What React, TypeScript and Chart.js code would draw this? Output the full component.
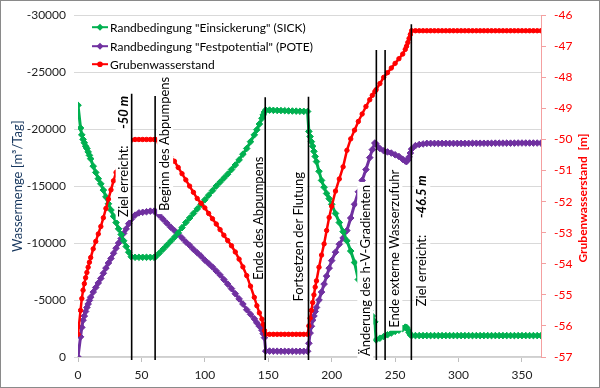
import React, { useEffect, useRef } from "react";
import { Chart, registerables } from "chart.js";
Chart.register(...registerables);

// ---- data ----
const days = [
  0, 2, 3, 4, 5, 6, 7, 8, 9, 10, 12, 14, 16, 18, 20, 22, 24, 26, 28, 30, 32, 34, 36, 38, 40, 42,
  45, 48, 51, 54, 57, 60, 61, 64, 67, 70, 73, 76, 79, 82, 85, 88, 91, 94, 97, 100, 103, 106, 109,
  112, 115, 118, 121, 124, 127, 130, 133, 136, 139, 141, 143, 145, 146, 147, 148, 151, 154, 157,
  160, 163, 166, 169, 172, 175, 178, 181, 182, 183, 184, 185, 186, 187, 188, 190, 192, 194, 196,
  198, 200, 203, 206, 209, 212, 215, 218, 221, 224, 227, 230, 232, 234, 235, 238, 241, 244, 247,
  250, 253, 256, 258, 259, 260, 261, 262, 263, 266, 269, 272, 275, 278, 281, 284, 287, 290, 293,
  296, 299, 302, 305, 308, 311, 314, 317, 320, 323, 326, 329, 332, 335, 338, 341, 344, 347, 350,
  353, 356, 359, 362, 365,
];

const sickValues = [
  -22100, -20100, -19500, -19100, -18800, -18500, -18300, -18000, -17700, -17400, -16750, -16200,
  -15650, -15200, -14650, -14050, -13450, -12900, -12350, -11800, -11250, -10750, -10200, -9700,
  -9200, -8800,
  -8750, -8750, -8750, -8750, -8750, -8750, -8780, -9100, -9450, -9800, -10150, -10500, -10900,
  -11350, -11800, -12200, -12600, -13000, -13400, -13800, -14200, -14600, -15000,
  -15350, -15700, -16050, -16450, -16850, -17300, -17800, -18300, -18900, -19500, -19950, -20450,
  -20950, -21250, -21500, -21680, -21670, -21650, -21640,
  -21630, -21620, -21600, -21590, -21580, -21570, -21560, -21550, -19800, -19350, -18900, -18500,
  -18050, -17600, -17150, -16300, -15500, -14900, -14350,
  -13900, -13400, -12600, -11800, -11000, -10200, -9300, -8300, -6800, -5600, -4800, -4100, -3600,
  -3080, -1500, -1650, -1800, -1950, -2100,
  -2250, -2350, -2500, -2620, -2600, -2400, -2150, -1950, -1880, -1880, -1880, -1880, -1880, -1880,
  -1880, -1880, -1880, -1880, -1880,
  -1880, -1880, -1880, -1880, -1880, -1880, -1880, -1880, -1880, -1880, -1880, -1880, -1880, -1880,
  -1880, -1880, -1880, -1880, -1880,
  -1880, -1880, -1880, -1880, -1880,
];

const poteValues = [
  0, -1770, -2600, -3230, -3600, -4000, -4350, -4650, -4970, -5250, -5700, -6100, -6500, -6900,
  -7350, -7800, -8250, -8650, -9100, -9550, -10000, -10400, -10850, -11250, -11700, -12100,
  -12450, -12650, -12700, -12750, -12800, -12800, -12780, -12450, -12100, -11750, -11400, -11100,
  -10800, -10450, -10100, -9800, -9450, -9150, -8850, -8500, -8200, -7900, -7550,
  -7200, -6800, -6400, -6000, -5550, -5100, -4650, -4150, -3750, -3350, -3000, -2700, -2350,
  -2050, -1700, -520, -520, -510, -510,
  -500, -500, -500, -500, -500, -500, -500, -500, -1200, -2100, -2700, -3230, -3600, -4000,
  -4350, -5000, -5700, -6400, -7100,
  -7800, -8460, -9200, -9900, -10450, -11100, -12200, -13400, -14500, -15500, -16450, -17500,
  -18200, -18780, -18700, -18300, -18100, -18000, -17900,
  -17750, -17600, -17350, -17200, -17150, -17300, -17550, -17900, -18250, -18550, -18650, -18700,
  -18750, -18750, -18750, -18750, -18750, -18750, -18750,
  -18750, -18750, -18750, -18750, -18750, -18760, -18760, -18760, -18760, -18760, -18760, -18770,
  -18770, -18770, -18770, -18770, -18770, -18780, -18780,
  -18780, -18780, -18780, -18780, -18780,
];

const levelValues = [
  -56.27, -55.5, -55.12, -54.85, -54.64, -54.45, -54.28, -54.11, -53.95, -53.8, -53.52, -53.28,
  -53.04, -52.8, -52.52, -52.22, -51.92, -51.62, -51.33, -51.06, -50.8, -50.56, -50.36, -50.2,
  -50.08, -50.02,
  -50.0, -50.0, -50.0, -50.0, -50.0, -50.0, -50.0, -50.1, -50.25, -50.4, -50.55, -50.7, -50.9,
  -51.1, -51.3, -51.5, -51.7, -51.9, -52.05, -52.2, -52.38, -52.55, -52.72,
  -52.9, -53.08, -53.25, -53.42, -53.62, -53.85, -54.1, -54.38, -54.72, -55.08, -55.35, -55.58,
  -55.78, -55.95, -56.15, -56.27, -56.27, -56.27, -56.27,
  -56.27, -56.27, -56.27, -56.27, -56.27, -56.27, -56.27, -56.27, -56.0, -55.75, -55.5, -55.25,
  -55.0, -54.75, -54.55, -54.11, -53.72, -53.36, -52.93,
  -52.51, -52.15, -51.66, -51.27, -50.88, -50.35, -49.98, -49.7, -49.42, -49.18, -48.94, -48.72,
  -48.58, -48.46, -48.4, -48.2, -48.0, -47.85, -47.7,
  -47.55, -47.4, -47.25, -47.1, -47.0, -46.88, -46.75, -46.62, -46.5, -46.5, -46.5, -46.5, -46.5,
  -46.5, -46.5, -46.5, -46.5, -46.5, -46.5,
  -46.5, -46.5, -46.5, -46.5, -46.5, -46.5, -46.5, -46.5, -46.5, -46.5, -46.5, -46.5, -46.5, -46.5,
  -46.5, -46.5, -46.5, -46.5, -46.5,
  -46.5, -46.5, -46.5, -46.5, -46.5,
];

const seriesNames = [
  'Randbedingung "Einsickerung" (SICK)',
  'Randbedingung "Festpotential" (POTE)',
  "Grubenwasserstand",
];

const xTicks = [0, 50, 100, 150, 200, 250, 300, 350];
const leftTicks = [-30000, -25000, -20000, -15000, -10000, -5000, 0];
const rightTicks = [-57, -56, -55, -54, -53, -52, -51, -50, -49, -48, -47, -46];

// event markers (vertical lines): day and top end (left-axis units)
const eventDays = [42.3, 60.8, 147.6, 181.7, 235.2, 242.1, 262.8];
const eventTops = [-23100, -22900, -22800, -22850, -26950, -26950, -29200];

// annotation texts (anchored at day / left-axis value)
const annotationTexts = [
  ["Ziel erreicht:", "-50 m"],
  ["Beginn des Abpumpens"],
  ["Ende des Abpumpens"],
  ["Fortsetzen der Flutung"],
  ["Änderung des h-V-Gradienten"],
  ["Ende externe Wasserzufuhr"],
  ["Ziel erreicht:", "-46.5 m"],
];
const annotationDays = [36, 68.7, 142.3, 174.2, 226.5, 249.4, 271.4];
const annotationValues = [-17600, -18700, -12170, -10550, -7590, -9500, -10200];

const FONT = "Lato, 'DejaVu Sans', sans-serif";
const GREEN = "#00B050";
const PURPLE = "#7030A0";
const RED = "#FF0000";

const overlayPlugin = {
  id: "overlay",
  beforeDraw(chart: any) {
    const ctx = chart.ctx;
    ctx.save();
    ctx.fillStyle = "#fff";
    ctx.fillRect(0, 0, chart.width, chart.height);
    ctx.restore();
  },
  afterDatasetsDraw(chart: any) {
    const ctx = chart.ctx;
    const x = chart.scales.x;
    const y = chart.scales.y;
    // annotation boxes
    annotationTexts.forEach((parts, i) => {
      const px = x.getPixelForValue(annotationDays[i]);
      const py = y.getPixelForValue(annotationValues[i]);
      ctx.save();
      ctx.translate(px, py);
      ctx.rotate(-Math.PI / 2);
      const fonts = parts.map((_, k) => (k === 0 ? `13px ${FONT}` : `italic bold 13px ${FONT}`));
      const texts = parts.map((t, k) => (k === 0 && parts.length > 1 ? t + "     " : t));
      const widths = texts.map((t, k) => {
        ctx.font = fonts[k];
        return ctx.measureText(t).width;
      });
      const total = widths.reduce((a, b) => a + b, 0);
      ctx.fillStyle = "#fff";
      ctx.fillRect(-total / 2 - 3, -8, total + 6, 16);
      ctx.fillStyle = "#000";
      ctx.textBaseline = "middle";
      ctx.textAlign = "left";
      let cx = -total / 2;
      texts.forEach((t, k) => {
        ctx.font = fonts[k];
        ctx.fillText(t, cx, 0);
        cx += widths[k];
      });
      ctx.restore();
    });
    // event lines
    ctx.save();
    ctx.strokeStyle = "#000";
    ctx.lineWidth = 1.6;
    eventDays.forEach((d, i) => {
      const px = x.getPixelForValue(d);
      const top = y.getPixelForValue(eventTops[i]);
      ctx.beginPath();
      ctx.moveTo(px, top);
      ctx.lineTo(px, y.bottom + 3);
      ctx.stroke();
    });
    ctx.restore();
  },
  afterDraw(chart: any) {
    const ctx = chart.ctx;
    const area = chart.chartArea;
    // legend
    const colors = [GREEN, PURPLE, RED];
    const lx = area.left + 14;
    const lys = [area.top + 12, area.top + 31, area.top + 49];
    ctx.save();
    seriesNames.forEach((name, i) => {
      const ly = lys[i];
      ctx.strokeStyle = colors[i];
      ctx.lineWidth = 2;
      ctx.beginPath();
      ctx.moveTo(lx, ly);
      ctx.lineTo(lx + 16, ly);
      ctx.stroke();
      ctx.fillStyle = colors[i];
      ctx.beginPath();
      if (i < 2) {
        ctx.moveTo(lx + 8 - 3.5, ly);
        ctx.lineTo(lx + 8, ly - 3.5);
        ctx.lineTo(lx + 8 + 3.5, ly);
        ctx.lineTo(lx + 8, ly + 3.5);
        ctx.closePath();
      } else {
        ctx.arc(lx + 8, ly, 2.8, 0, Math.PI * 2);
      }
      ctx.fill();
      ctx.fillStyle = "#000";
      ctx.font = `12px ${FONT}`;
      ctx.textBaseline = "middle";
      ctx.textAlign = "left";
      ctx.fillText(name, lx + 18, ly + 0.5);
    });
    // axis titles
    ctx.textAlign = "center";
    ctx.textBaseline = "middle";
    ctx.save();
    ctx.font = `13px ${FONT}`;
    ctx.fillStyle = "#17375E";
    ctx.translate(18, (area.top + area.bottom) / 2);
    ctx.rotate(-Math.PI / 2);
    ctx.fillText("Wassermenge [m³/Tag]", 0, 0);
    ctx.restore();
    ctx.save();
    ctx.font = `bold 12px ${FONT}`;
    ctx.fillStyle = RED;
    ctx.translate(583, 198);
    ctx.rotate(-Math.PI / 2);
    ctx.fillText("Grubenwasserstand  [m]", 0, 0);
    ctx.restore();
    // outer border
    ctx.strokeStyle = "#8a8a8a";
    ctx.lineWidth = 1;
    ctx.strokeRect(0.5, 0.5, chart.width - 1, chart.height - 1);
    ctx.restore();
  },
};

export default function App() {
  const ref = useRef<HTMLCanvasElement | null>(null);
  useEffect(() => {
    if (!ref.current) return;
    const mk = (vals: number[]) => days.map((d, i) => ({ x: d, y: vals[i] }));
    const plain = (v: any) => String(v);
    const chart = new Chart(ref.current, {
      type: "line",
      data: {
        datasets: [
          {
            label: seriesNames[0],
            data: mk(sickValues),
            yAxisID: "y",
            borderColor: GREEN,
            backgroundColor: GREEN,
            borderWidth: 3,
            pointStyle: "rectRot",
            pointRadius: 3.3,
            pointBorderWidth: 1,
            tension: 0,
            order: 1,
          },
          {
            label: seriesNames[1],
            data: mk(poteValues),
            yAxisID: "y",
            borderColor: PURPLE,
            backgroundColor: PURPLE,
            borderWidth: 3,
            pointStyle: "rectRot",
            pointRadius: 3.3,
            pointBorderWidth: 1,
            tension: 0,
            order: 2,
          },
          {
            label: seriesNames[2],
            data: mk(levelValues),
            yAxisID: "y1",
            borderColor: RED,
            backgroundColor: RED,
            borderWidth: 2.5,
            pointStyle: "circle",
            pointRadius: 2.2,
            pointBorderWidth: 1,
            tension: 0,
            order: 0,
          },
        ],
      },
      options: {
        animation: false,
        responsive: false,
        devicePixelRatio: 1,
        layout: { padding: { top: 13, left: 0, right: 0, bottom: 0 } },
        plugins: { legend: { display: false }, tooltip: { enabled: false } },
        scales: {
          x: {
            type: "linear",
            min: 0,
            max: 365,
            afterBuildTicks: (s: any) => {
              s.ticks = xTicks.map((v) => ({ value: v }));
            },
            afterFit: (s: any) => {
              s.height = 31;
            },
            grid: { drawOnChartArea: false, drawTicks: true, tickLength: 5, color: "#bfbfbf" },
            border: { display: true, color: "#cfcfcf", width: 1.5 },
            ticks: { font: { family: FONT, size: 12 }, color: "#222", padding: 6, maxRotation: 0, callback: plain },
          },
          y: {
            type: "linear",
            position: "left",
            reverse: true,
            min: -30000,
            max: 0,
            afterBuildTicks: (s: any) => {
              s.ticks = leftTicks.map((v) => ({ value: v }));
            },
            afterFit: (s: any) => {
              s.width = 78;
            },
            grid: { color: "#d9d9d9", tickLength: 4, lineWidth: 1 },
            border: { display: false },
            ticks: { font: { family: FONT, size: 12 }, color: "#222", padding: 8, callback: plain },
          },
          y1: {
            type: "linear",
            position: "right",
            min: -57,
            max: -46,
            afterBuildTicks: (s: any) => {
              s.ticks = rightTicks.map((v) => ({ value: v }));
            },
            afterFit: (s: any) => {
              s.width = 59;
            },
            grid: { drawOnChartArea: false, tickLength: 5, color: "#f4a0a0" },
            border: { display: true, color: "#f4a0a0", width: 1 },
            ticks: { font: { family: FONT, size: 12 }, color: RED, padding: 8, callback: plain },
          },
        },
      },
      plugins: [overlayPlugin],
    });
    return () => chart.destroy();
  }, []);
  return (
    <div style={{ position: "absolute", left: 0, top: 0, width: 600, height: 388 }}>
      <canvas ref={ref} width={600} height={388} style={{ display: "block" }} />
    </div>
  );
}
